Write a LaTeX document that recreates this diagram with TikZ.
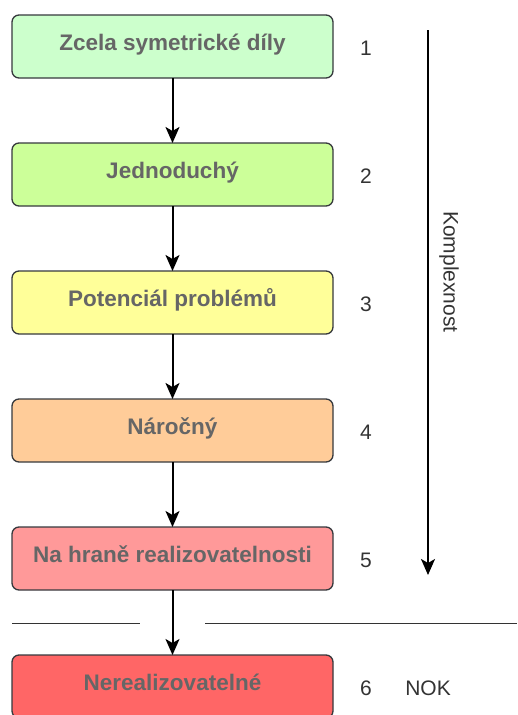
\documentclass[tikz,border=0pt]{standalone}
\usepackage{fontspec}
\setmainfont{Liberation Sans}
\usetikzlibrary{positioning, arrows.meta}

\definecolor{lvlA}{HTML}{CCFFCC}
\definecolor{lvlB}{HTML}{CCFF99}
\definecolor{lvlC}{HTML}{FFFF99}
\definecolor{lvlD}{HTML}{FFCC99}
\definecolor{lvlE}{HTML}{FF9999}
\definecolor{lvlF}{HTML}{FF6666}
\definecolor{rim}{HTML}{36393D}
\definecolor{labgray}{HTML}{666666}
\definecolor{numgray}{HTML}{333333}

\begin{document}
\begin{tikzpicture}[
  x=1pt, y=-1pt,
  level/.style={rectangle, rounded corners=7pt, draw=rim, line width=1.3pt,
    outer sep=0pt, minimum width=321pt, minimum height=63pt, text=labgray,
    text height=16pt, text depth=9pt,
    font=\bfseries\fontsize{22.5}{26}\selectfont},
  num/.style={inner sep=0pt, text=numgray, font=\fontsize{21}{25}\selectfont},
  arr/.style={line width=2pt, -{Stealth[length=16pt, width=14pt, inset=4pt]}},
  node distance=65pt
]
\useasboundingbox (0,0) rectangle (517,715);

\node[level, fill=lvlA] (l1) at (172.5,46.5) {Zcela symetrické díly};
\node[level, fill=lvlB] (l2) [below=of l1] {Jednoduchý};
\node[level, fill=lvlC] (l3) [below=of l2] {Potenciál problémů};
\node[level, fill=lvlD] (l4) [below=of l3] {Náročný};
\node[level, fill=lvlE] (l5) [below=of l4] {Na hraně realizovatelnosti};
\node[level, fill=lvlF] (l6) [below=of l5] {Nerealizovatelné};

\node[num] (n1) [right=27pt of l1, yshift=-2pt] {1};
\node[num] (n2) [right=27pt of l2, yshift=-2pt] {2};
\node[num] (n3) [right=27pt of l3, yshift=-2pt] {3};
\node[num] (n4) [right=27pt of l4, yshift=-2pt] {4};
\node[num] (n5) [right=27pt of l5, yshift=-2pt] {5};
\node[num] (n6) [right=27pt of l6, yshift=-2pt] {6};
\node[num] (nok) [right=33pt of n6] {NOK};

\draw[arr] (l1) -- (l2);
\draw[arr] (l2) -- (l3);
\draw[arr] (l3) -- (l4);
\draw[arr] (l4) -- (l5);
\draw[arr] (l5) -- (l6);

% complexity axis
\coordinate (kt) at (428,30);
\coordinate (kb) at (428,575);
\draw[arr] (kt) -- (kb);
\node[num, rotate=-90] (kx) at (449,272) {Komplexnost};

% cut line
\coordinate (sa) at (12,623);
\coordinate (sb) at (140,623);
\coordinate (sc) at (205,623);
\coordinate (sd) at (517,623);
\draw[line width=1pt, numgray] (sa) -- (sb);
\draw[line width=1pt, numgray] (sc) -- (sd);
\end{tikzpicture}
\end{document}
